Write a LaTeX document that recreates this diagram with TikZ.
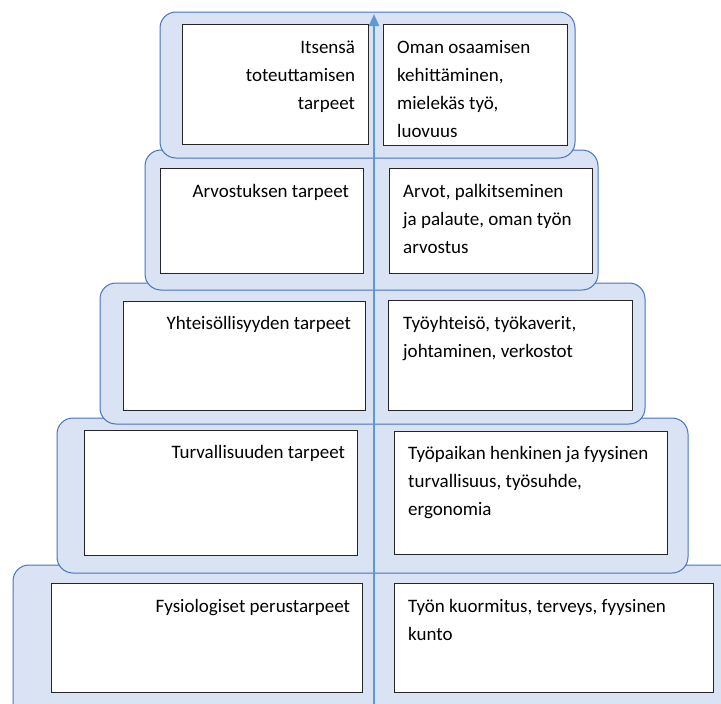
\documentclass[tikz,border=0pt]{standalone}
\usepackage{fontspec}
\setmainfont{Carlito}
\usetikzlibrary{arrows.meta}

\definecolor{panelfill}{RGB}{218,227,243}
\definecolor{paneldraw}{RGB}{68,114,196}
\definecolor{arrowblue}{RGB}{91,155,213}

\tikzset{
	panel/.style={fill=panelfill, draw=paneldraw, line width=1pt, rounded corners=16pt},
	needbox/.style={draw=black!85, line width=1.2pt, fill=white, inner sep=0pt, anchor=north west},
	needtext/.style={inner sep=0pt, font=\fontsize{19}{28}\selectfont},
}

\begin{document}
\begin{tikzpicture}[x=1pt, y=-1pt]
		\useasboundingbox (0, 0) rectangle (721, 704);
		\clip (0, 0) rectangle (721, 704);
		
		% tasot alimmasta ylimpaan
		\foreach \xa/\ya/\xb/\yb in {13/565/740/725, 57/418/688/573, 100/283/645/424, 145/150/598/290, 160/12/575/158}
			\draw[panel] (\xa, \ya) rectangle (\xb, \yb);
		
		\coordinate (arrbot) at (374, 704);
		\coordinate (arrtop) at (374, 14);
		\draw[arrowblue, line width=2.2pt, -{Triangle[length=12pt, width=10pt]}] (arrbot) -- (arrtop);
		
		\node[needbox, minimum width=186pt, minimum height=120pt] (itseL) at (182, 24) {};
		\node[needbox, minimum width=184pt, minimum height=121pt] (itseR) at (383, 24) {};
		\node[needbox, minimum width=203pt, minimum height=105pt] (arvoL) at (160, 168) {};
		\node[needbox, minimum width=203pt, minimum height=105pt] (arvoR) at (389, 168) {};
		\node[needbox, minimum width=242pt, minimum height=109pt] (yhtL) at (123, 301) {};
		\node[needbox, minimum width=244pt, minimum height=110pt] (yhtR) at (388, 300) {};
		\node[needbox, minimum width=273pt, minimum height=125pt] (turvaL) at (84, 430) {};
		\node[needbox, minimum width=273pt, minimum height=123pt] (turvaR) at (394, 431) {};
		\node[needbox, minimum width=311pt, minimum height=109pt] (fysL) at (51, 583) {};
		\node[needbox, minimum width=319pt, minimum height=109pt] (fysR) at (394, 583) {};
		
		\node[needtext, anchor=north east, align=right] (itseLt) at ([shift={(-14, 10)}]itseL.north east)
			{\strut Itsensä\\ toteuttamisen\\ tarpeet};
		\node[needtext, anchor=north west, align=left] (itseRt) at ([shift={(14, 10)}]itseR.north west)
			{\strut Oman osaamisen\\ kehittäminen,\\ mielekäs työ,\\ luovuus};
		\node[needtext, anchor=north east, align=right] (arvoLt) at ([shift={(-15, 9.5)}]arvoL.north east)
			{\strut Arvostuksen tarpeet};
		\node[needtext, anchor=north west, align=left] (arvoRt) at ([shift={(14, 9.5)}]arvoR.north west)
			{\strut Arvot, palkitseminen\\ ja palaute, oman työn\\ arvostus};
		\node[needtext, anchor=north east, align=right] (yhtLt) at ([shift={(-15, 8.5)}]yhtL.north east)
			{\strut Yhteisöllisyyden tarpeet};
		\node[needtext, anchor=north west, align=left] (yhtRt) at ([shift={(15, 9.5)}]yhtR.north west)
			{\strut Työyhteisö, työkaverit,\\ johtaminen, verkostot};
		\node[needtext, anchor=north east, align=right] (turvaLt) at ([shift={(-13, 8.5)}]turvaL.north east)
			{\strut Turvallisuuden tarpeet};
		\node[needtext, anchor=north west, align=left] (turvaRt) at ([shift={(14, 8.5)}]turvaR.north west)
			{\strut Työpaikan henkinen ja fyysinen\\ turvallisuus, työsuhde,\\ ergonomia};
		\node[needtext, anchor=north east, align=right] (fysLt) at ([shift={(-13, 9.5)}]fysL.north east)
			{\strut Fysiologiset perustarpeet};
		\node[needtext, anchor=north west, align=left] (fysRt) at ([shift={(14, 9.5)}]fysR.north west)
			{\strut Työn kuormitus, terveys, fyysinen\\ kunto};
\end{tikzpicture}
\end{document}
